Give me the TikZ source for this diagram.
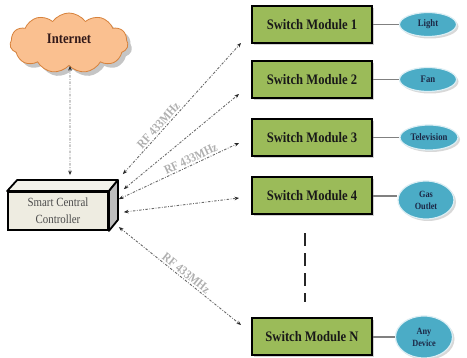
\documentclass[tikz,border=0pt]{standalone}
\usepackage{fontspec}
\setmainfont{Liberation Serif}
\newfontfamily\narrowserif[FakeStretch=0.87]{Liberation Serif}
\usetikzlibrary{shapes.geometric,shapes.symbols,shadows,arrows.meta,calc}

\definecolor{modgreen}{RGB}{155,187,89}
\definecolor{devblue}{RGB}{75,172,198}
\definecolor{devtext}{RGB}{28,40,70}
\definecolor{cloudfill}{RGB}{250,192,144}
\definecolor{cloudline}{RGB}{215,130,60}
\definecolor{inettext}{RGB}{50,25,25}
\definecolor{boxface}{RGB}{238,236,225}
\definecolor{boxside}{RGB}{190,190,190}
\definecolor{rflabel}{RGB}{175,175,175}
\definecolor{linkgray}{RGB}{105,105,105}

\begin{document}
\begin{tikzpicture}[x=1pt,y=-1pt,
  module/.style={draw=black, line width=2pt, fill=modgreen,
    minimum width=120pt, minimum height=37pt, inner sep=0pt,
    font=\narrowserif\bfseries\fontsize{14.5}{16}\selectfont, text=black!90,
    drop shadow={shadow xshift=2pt, shadow yshift=-2pt, opacity=0.35}},
  device/.style={ellipse, draw=white!80!devblue, line width=1.2pt, fill=devblue,
    minimum width=57pt, minimum height=24pt, inner sep=0pt, align=center,
    text=devtext, font=\narrowserif\bfseries\fontsize{10}{11.5}\selectfont,
    drop shadow={shadow xshift=2pt, shadow yshift=-2pt, opacity=0.3}},
  rflink/.style={draw=linkgray, line width=0.9pt,
    dash pattern=on 2.5pt off 1.5pt on 0.8pt off 1.5pt,
    {Stealth[length=4.5pt,width=3.6pt,color=black!85]}-{Stealth[length=4.5pt,width=3.6pt,color=black!85]}},
  rftext/.style={sloped, above, inner sep=1.5pt, text=rflabel,
    font=\narrowserif\bfseries\fontsize{12.5}{13}\selectfont},
  wire/.style={draw=gray, line width=1.3pt},
]
\useasboundingbox (0,0) rectangle (467,358);
\fill[white] (0,0) rectangle (467,358);

% Internet cloud
\node[cloud, cloud puffs=11, cloud puff arc=110, aspect=2,
      draw=cloudline, line width=0.8pt, fill=cloudfill,
      minimum width=118pt, minimum height=60pt, text=inettext,
      font=\narrowserif\bfseries\fontsize{14.5}{16}\selectfont,
      drop shadow={shadow xshift=4pt, shadow yshift=-4pt, opacity=0.45}]
  (inet) at (69,43) {\raisebox{8pt}{Internet}};

% Central controller drawn as a 3D box
\node[draw=black, line width=1.8pt, fill=boxface, minimum width=100pt,
      minimum height=38pt, align=center, text=black!70,
      font=\narrowserif\fontsize{12.5}{17}\selectfont]
  (ctrl) at (58,211) {Smart Central\\Controller};
\filldraw[draw=black, line width=1.8pt, fill=boxface!70!white, line join=round]
  (ctrl.north west) -- ++(10,-11) -- ([shift={(9,-11)}]ctrl.north east)
  -- (ctrl.north east) -- cycle;
\filldraw[draw=black, line width=1.8pt, fill=boxside, line join=round]
  (ctrl.north east) -- ++(9,-11) -- ([shift={(9,-11)}]ctrl.south east)
  -- (ctrl.south east) -- cycle;

% Switch modules
\node[module] (sm1) at (312,24.5) {Switch Module 1};
\node[module] (sm2) at (312,79.5) {Switch Module 2};
\node[module] (sm3) at (312,137.5) {Switch Module 3};
\node[module] (sm4) at (312,196) {Switch Module 4};
\node[module] (smn) at (312,337) {Switch Module N};

% Loads
\node[device] (d1) at (428,24.5) {Light};
\node[device] (d2) at (428,79.5) {Fan};
\node[device, minimum width=58pt, minimum height=25pt] (d3) at (429,137.5) {Television};
\node[device, minimum width=56pt, minimum height=38pt,
      font=\narrowserif\bfseries\fontsize{9.5}{12}\selectfont] (d4) at (426,200) {Gas\\Outlet};
\node[device, minimum width=57pt, minimum height=42pt,
      font=\narrowserif\bfseries\fontsize{9.5}{12}\selectfont] (d5) at (424,337) {Any\\Device};

\draw[wire] (sm1.east) -- (d1.west);
\draw[wire] (sm2.east) -- (d2.west);
\draw[wire] (sm3.east) -- (d3.west);
\draw[wire] (sm4.east) -- (d4.west |- sm4.east);
\draw[wire] (smn.east) -- (d5.west);

% further modules in between
\draw[line width=2.2pt, black!85, dash pattern=on 13pt off 7pt]
  ([xshift=-7pt,yshift=-18pt]sm4.south) -- ([xshift=-7pt,yshift=15pt]smn.north);

% Internet link
\coordinate (ctop) at ([shift={(12,-16)}]ctrl.north);
\draw[rflink] ([xshift=1pt]inet.south) -- (ctop);

% RF links
\coordinate (p1) at ([shift={(14,-17)}]ctrl.north east);
\coordinate (p2) at ([shift={(15,-2)}]ctrl.north east);
\coordinate (p3) at ([shift={(10,8)}]ctrl.north east);
\coordinate (p4) at ([shift={(15,21)}]ctrl.north east);
\coordinate (p5) at ([shift={(10,36)}]ctrl.north east);
\coordinate (q1) at ([shift={(-10,-1)}]sm1.south west);
\coordinate (q2) at ([shift={(-12,-5)}]sm2.south west);
\coordinate (q3) at ([shift={(-12,5.5)}]sm3.west);
\coordinate (q4) at ([shift={(-12,2)}]sm4.west);
\coordinate (q5) at ([shift={(-10,-12)}]smn.west);

\draw[rflink] (p1) -- node[rftext, pos=0.34] {RF 433MHz} (q1);
\draw[rflink] (p2) -- (q2);
\draw[rflink] (p3) -- node[rftext, pos=0.62] {RF 433MHz} (q3);
\draw[rflink] (p4) -- (q4);
\draw[rflink] (p5) -- node[rftext, pos=0.52] {RF 433MHz} (q5);
\end{tikzpicture}
\end{document}
